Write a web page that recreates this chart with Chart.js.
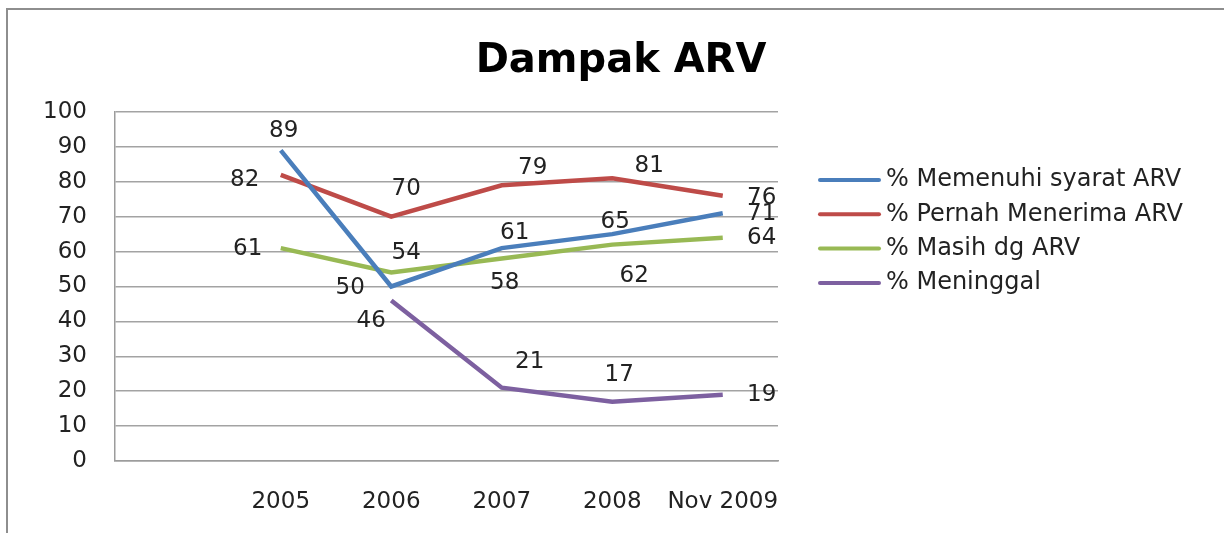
<!DOCTYPE html>
<html lang="id">
<head>
  <meta charset="utf-8">
  <title>Dampak ARV</title>
  <script src="https://cdn.jsdelivr.net/npm/chart.js@4.4.1/dist/chart.umd.min.js"></script>
  <style>
    html, body { margin: 0; padding: 0; background: #fff; overflow: hidden; }
    #wrap { position: relative; width: 1224px; height: 533px; overflow: hidden; }
    #frame { position: absolute; left: 6px; top: 8px; width: 1400px; height: 700px;
             border-left: 2px solid #8e8e8e; border-top: 2px solid #8e8e8e; pointer-events: none; }
  </style>
</head>
<body>
  <div id="wrap">
    <canvas id="arvChart" width="1224" height="533"></canvas>
    <div id="frame"></div>
  </div>
  <script>
    // Data (first category is left empty, as in the original)
    const categories = ['', '2005', '2006', '2007', '2008', 'Nov 2009'];
    const memenuhi   = [null, 89, 50, 61, 65, 71];
    const pernah     = [null, 82, 70, 79, 81, 76];
    const masih      = [null, 61, 54, 58, 62, 64];
    const meninggal  = [null, null, 46, 21, 17, 19];
    const seriesNames = ['% Memenuhi syarat ARV', '% Pernah Menerima ARV', '% Masih dg ARV', '% Meninggal'];
    const yTicks = [0, 10, 20, 30, 40, 50, 60, 70, 80, 90, 100];

    const colors = ['#4a7ebb', '#be4b48', '#98b954', '#7d60a0'];

    // where each value label sits relative to its point (dx, dy in px)
    const labelOffsets = [
      [null, [3, -19], [-41, 2], [13, -15], [3, -12], [39, 1]],
      [null, [-36, 5], [15, -28], [31, -17], [37, -12], [39, 2]],
      [null, [-33, 1], [15, -20], [3, 24], [22, 31], [39, 0]],
      [null, null, [-20, 21], [28, -26], [7, -27], [39, 0]]
    ];

    const FONT = '"DejaVu Sans", Verdana, sans-serif';

    const extras = {
      id: 'extras',
      afterDatasetsDraw(chart) {
        const ctx = chart.ctx;
        ctx.save();
        ctx.font = '23px ' + FONT;
        ctx.fillStyle = '#222';
        ctx.textAlign = 'center';
        ctx.textBaseline = 'middle';
        chart.data.datasets.forEach((ds, i) => {
          const meta = chart.getDatasetMeta(i);
          ds.data.forEach((v, j) => {
            if (v === null || !labelOffsets[i][j]) return;
            const pt = meta.data[j];
            ctx.fillText(String(v), pt.x + labelOffsets[i][j][0], pt.y + labelOffsets[i][j][1]);
          });
        });
        ctx.restore();
      },
      afterDraw(chart) {
        const ctx = chart.ctx;
        ctx.save();
        // title
        ctx.font = 'bold 40px ' + FONT;
        ctx.fillStyle = '#000';
        ctx.textAlign = 'center';
        ctx.textBaseline = 'alphabetic';
        ctx.fillText('Dampak ARV', 621, 72);
        // legend
        ctx.font = '24px ' + FONT;
        ctx.textAlign = 'left';
        ctx.textBaseline = 'middle';
        chart.data.datasets.forEach((ds, i) => {
          const y = 180 + i * 34.3;
          ctx.strokeStyle = ds.borderColor;
          ctx.lineWidth = 4;
          ctx.lineCap = 'round';
          ctx.beginPath();
          ctx.moveTo(820, y);
          ctx.lineTo(879, y);
          ctx.stroke();
          ctx.fillStyle = '#222';
          ctx.fillText(ds.label, 886, y);
        });
        ctx.restore();
      }
    };

    const series = [memenuhi, pernah, masih, meninggal];

    new Chart(document.getElementById('arvChart'), {
      type: 'line',
      data: {
        labels: categories,
        datasets: series.map((s, i) => ({
          label: seriesNames[i],
          data: s,
          borderColor: colors[i],
          backgroundColor: colors[i],
          borderWidth: 4.5,
          pointRadius: 0,
          tension: 0,
          fill: false
        }))
      },
      options: {
        responsive: false,
        animation: false,
        layout: { padding: { left: 0, top: 112, right: 446, bottom: 0 } },
        plugins: {
          legend: { display: false },
          title: { display: false },
          tooltip: { enabled: false }
        },
        scales: {
          x: {
            offset: true,
            grid: { display: false, drawTicks: false },
            border: { display: true, color: '#9c9c9c', width: 1.5 },
            ticks: { color: '#222', font: { family: FONT, size: 23 }, padding: 27, maxRotation: 0, autoSkip: false },
            afterFit(s) { s.height = 72; }
          },
          y: {
            min: 0,
            max: 100,
            afterBuildTicks(s) { s.ticks = yTicks.map(v => ({ value: v })); },
            grid: { color: '#a3a3a3', lineWidth: 1.5, drawTicks: false },
            border: { display: true, color: '#9c9c9c', width: 1.5 },
            ticks: { color: '#222', font: { family: FONT, size: 23 }, padding: 28 },
            afterFit(s) { s.width = 115; }
          }
        }
      },
      plugins: [extras]
    });
  </script>
</body>
</html>
